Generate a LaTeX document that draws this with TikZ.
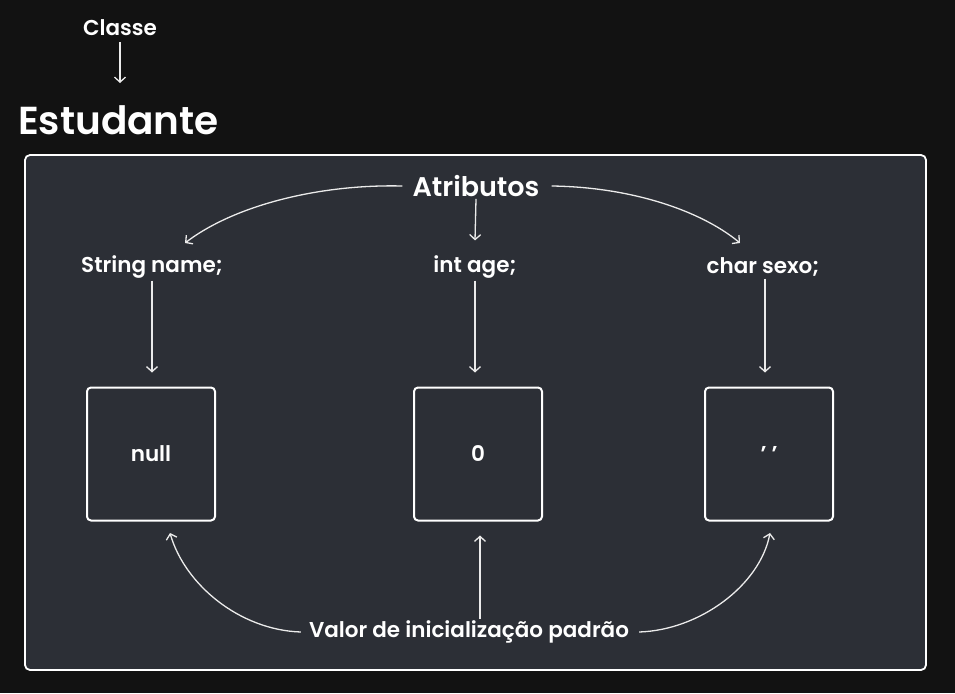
\documentclass[tikz,border=0pt]{standalone}
\usepackage{fontspec}
\setmainfont{Poppins}[BoldFont=* SemiBold]
\usetikzlibrary{arrows.meta}
\definecolor{fundo}{HTML}{121212}
\definecolor{painel}{HTML}{2C2F36}
\tikzset{
  rotulo/.style={text=white, inner sep=2pt, font=\fontsize{21.5}{25}\selectfont\bfseries},
  caixa/.style={rotulo, draw=white, line width=2pt, rounded corners=4pt, minimum width=128pt, minimum height=133pt},
  seta/.style={draw=white!92!black, line width=1.3pt, -{Straight Barb[length=5pt,width=11pt]}}
}
\begin{document}
\begin{tikzpicture}[x=1pt,y=-1pt]
  \fill[fundo] (0,0) rectangle (955,693);
  \draw[white, line width=1.8pt, fill=painel, rounded corners=5pt] (25,155) rectangle (926,670);
  % titulo
  \node[rotulo] (classe) at (120,28) {Classe};
  \node[rotulo, anchor=west, font=\fontsize{39}{44}\selectfont\bfseries] (estudante) at (16,120) {Estudante};
  \draw[seta] ([yshift=-4pt]classe.south) -- (120,83);
  % atributos
  \node[rotulo, font=\fontsize{27}{31}\selectfont\bfseries] (atrib) at (476,186) {Atributos};
  \node[rotulo] (name) at (152,267) {String name;};
  \node[rotulo] (age) at (475,267) {int age;};
  \node[rotulo] (sexo) at (763,267) {char sexo;};
  \draw[seta] (atrib.south) -- ([yshift=13pt]age.north);
  \draw[seta] ([xshift=-8pt]atrib.west) .. controls (320,184) and (235,205) .. (185,243);
  \draw[seta] ([xshift=10pt]atrib.east) .. controls (630,187) and (700,210) .. (740,243);
  % valores
  \node[caixa] (bnull) at (151,454) {null};
  \node[caixa] (bzero) at (478,454) {0};
  \node[caixa] (bchar) at (769,454) {' '};
  \draw[seta, shorten >=14pt] (name.south) -- (name.south |- bnull.north);
  \draw[seta, shorten >=14pt] (age.south) -- (age.south |- bzero.north);
  \draw[seta, shorten >=14pt] ([xshift=2pt]sexo.south) -- ([xshift=2pt]sexo.south |- bchar.north);
  % inicializacao
  \node[rotulo] (valor) at (469,632) {Valor de inicialização padrão};
  \draw[seta, shorten >=14pt] ([xshift=11pt]valor.north) -- ([xshift=11pt]valor.north |- bzero.south);
  \draw[seta] ([xshift=-6pt]valor.west) .. controls (240,630) and (185,585) .. (170,533);
  \draw[seta] ([xshift=8pt]valor.east) .. controls (700,630) and (760,585) .. (770,533);
\end{tikzpicture}
\end{document}
